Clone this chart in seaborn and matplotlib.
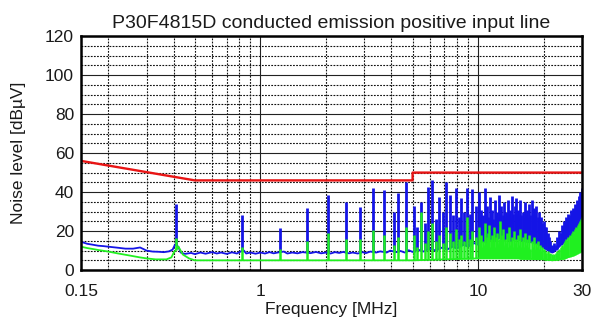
import numpy as np
import pandas as pd
import matplotlib
matplotlib.use("Agg")
import matplotlib.pyplot as plt
import seaborn as sns
from matplotlib.ticker import FixedLocator, NullFormatter

# ---------------- data ----------------
limit_freq = [0.15, 0.5, 5.0, 5.0, 30.0]
limit_level = [56, 46, 46, 50, 50]

blue_base_freq = [0.15, 0.16, 0.17, 0.18, 0.19, 0.20, 0.22, 0.24, 0.26, 0.27, 0.28, 0.29,
                  0.30, 0.32, 0.34, 0.36, 0.38, 0.395, 0.405, 0.42, 0.43, 0.45, 0.48, 0.50,
                  0.53, 0.56, 0.60, 0.63, 0.66, 0.70, 0.74, 0.78, 0.81, 0.84, 0.86, 0.90,
                  0.95, 1.00, 1.05, 1.10, 1.15, 1.20, 1.28, 1.33, 1.40, 1.48, 1.56, 1.62,
                  1.70, 1.80, 1.90, 2.00, 2.10, 2.20, 2.30, 2.40, 2.55, 2.65, 2.80, 2.95,
                  3.05, 3.20, 3.40, 3.55, 3.80, 3.95, 4.20, 4.40, 4.60, 4.80, 5.00, 5.30,
                  5.60, 6.00, 6.40, 6.80, 7.20, 7.60, 8.00, 8.50, 9.00, 9.50, 10.0, 10.5,
                  11.0, 11.5, 12.0, 12.5, 13.0, 13.5, 14.0, 15.0, 16.0, 17.0, 18.0, 19.0,
                  20.0, 21.0, 22.0, 23.0, 24.0, 25.0, 26.0, 27.0, 28.0, 29.0, 30.0]
blue_base_level = [14.5, 13.5, 13.0, 12.5, 12.3, 12.0, 11.5, 11.0, 11.0, 11.3, 11.6, 10.8,
                   10.0, 9.5, 9.4, 9.2, 9.6, 10.5, 13.0, 12.0, 9.0, 8.3, 8.8, 8.2,
                   9.0, 8.4, 9.2, 8.5, 9.0, 8.3, 9.1, 8.5, 9.5, 10.0, 8.5, 9.0,
                   8.4, 9.0, 8.5, 9.2, 8.6, 9.0, 9.5, 8.5, 9.0, 8.6, 9.2, 9.0,
                   8.7, 9.3, 8.6, 9.0, 8.5, 9.2, 8.8, 9.3, 8.6, 9.0, 8.5, 9.2,
                   8.7, 9.5, 9.0, 9.6, 9.0, 10.0, 9.2, 9.8, 9.0, 10.2, 9.3, 10.5,
                   9.5, 11.0, 10.0, 11.5, 10.5, 12.0, 11.0, 13.0, 12.0, 14.0, 13.0, 15.0,
                   14.0, 16.0, 15.0, 17.0, 15.0, 16.5, 15.0, 16.0, 15.0, 14.5, 14.0, 13.0,
                   11.5, 10.0, 9.0, 11.0, 13.0, 15.0, 17.0, 19.0, 21.0, 23.0, 25.0]

blue_spike_freq = [0.41, 0.82, 1.23, 1.64, 2.05, 2.47, 2.88, 3.30, 3.71, 4.12, 4.30, 4.68,
                   5.05, 5.25, 5.46, 5.70, 5.87, 6.15, 6.40, 6.62, 6.90, 7.13, 7.45, 7.70,
                   7.93, 8.15, 8.36, 8.65, 8.90, 9.15, 9.40, 9.75, 10.05, 10.2, 10.35, 10.5,
                   10.70, 10.85, 11.0, 11.15, 11.3, 11.45, 11.6, 11.75, 11.9, 12.05, 12.2,
                   12.35, 12.5, 12.65, 12.8, 12.95, 13.1, 13.25, 13.4, 13.55, 13.7, 13.85,
                   14.0, 14.15, 14.3, 14.5, 14.7, 14.85, 15.0, 15.15, 15.3, 15.45, 15.6,
                   15.8, 16.0, 16.2, 16.4, 16.6, 16.8, 17.0, 17.2, 17.4, 17.6, 17.8, 18.0,
                   18.25, 18.5, 18.75, 19.0, 19.25, 19.5, 19.75, 20.0, 20.3, 20.6, 20.9,
                   21.2, 21.5, 21.8, 22.1, 22.4, 22.7, 23.0, 23.3, 23.6, 23.9, 24.2, 24.5,
                   24.8, 25.1, 25.4, 25.7, 26.0, 26.3, 26.6, 26.9, 27.2, 27.5, 27.8, 28.1,
                   28.4, 28.7, 29.0, 29.25, 29.5, 29.7, 29.9]
blue_spike_peak = [34, 28, 21.5, 32, 38.5, 35, 32.5, 42, 41, 30, 39.5, 45,
                   33, 22, 35, 24, 42.7, 46, 26, 37.6, 30, 45, 38.5, 28,
                   42, 27, 37, 30, 42, 29, 41.5, 33, 40, 27, 31, 28,
                   42, 29, 33, 27, 37.6, 28, 31, 26, 36, 28, 30,
                   27, 38.5, 29, 33, 28, 35, 27, 30, 28, 36, 29,
                   31, 27, 38, 29, 33, 28, 37, 29, 31, 28, 36,
                   28, 30, 27, 35, 28, 31, 27, 34, 28, 36, 29, 32,
                   28, 33, 27, 30, 26, 27, 24, 25, 22, 22, 19,
                   17, 15, 13, 12, 14, 13, 17, 16, 20, 19, 23, 22,
                   25, 24, 27, 26, 29, 28, 31, 30, 32, 31, 34, 33,
                   36, 35, 38, 37, 40, 39, 42]

green_base_freq = [0.15, 0.16, 0.17, 0.18, 0.20, 0.22, 0.25, 0.28, 0.30, 0.33, 0.37, 0.39,
                   0.40, 0.42, 0.44, 0.47, 0.50, 0.60, 0.80, 1.0, 2.0, 3.0, 5.0, 7.0,
                   10.0, 15.0, 20.0, 22.0, 25.0, 28.0, 30.0]
green_base_level = [12.0, 11.3, 10.8, 10.3, 9.5, 8.6, 7.5, 6.5, 6.0, 5.5, 5.5, 6.5,
                    9.0, 12.0, 8.0, 6.0, 5.0, 5.0, 5.0, 5.0, 5.0, 5.0, 5.0, 5.5,
                    6.0, 6.0, 5.5, 5.0, 6.0, 8.0, 10.0]

green_spike_freq = [0.41, 0.82, 1.23, 1.64, 2.05, 2.47, 2.88, 3.30, 3.71, 4.12, 4.30, 4.68,
                    5.05, 5.25, 5.46, 5.70, 5.87, 6.15, 6.40, 6.62, 6.90, 7.13, 7.45, 7.70,
                    7.93, 8.15, 8.36, 8.65, 8.90, 9.15, 9.40, 9.75, 10.05, 10.15, 10.25,
                    10.35, 10.45, 10.55, 10.65, 10.75, 10.85, 10.95, 11.05, 11.15, 11.25,
                    11.35, 11.45, 11.55, 11.65, 11.75, 11.85, 11.95, 12.05, 12.15, 12.25,
                    12.35, 12.45, 12.55, 12.65, 12.75, 12.85, 12.95, 13.05, 13.15, 13.3,
                    13.45, 13.6, 13.75, 13.9, 14.05, 14.2, 14.35, 14.5, 14.65, 14.8, 14.95,
                    15.1, 15.25, 15.4, 15.55, 15.7, 15.85, 16.0, 16.2, 16.4, 16.6, 16.8,
                    17.0, 17.2, 17.4, 17.6, 17.8, 18.0, 18.2, 18.4, 18.6, 18.8, 19.0,
                    19.25, 19.5, 19.75, 20.0, 20.3, 20.6, 20.9, 21.2, 21.5, 21.8, 22.1,
                    22.4, 22.7, 23.0, 23.3, 23.6, 23.9, 24.2, 24.5, 24.8, 25.1, 25.4,
                    25.7, 26.0, 26.3, 26.6, 26.9, 27.2, 27.5, 27.8, 28.1, 28.4, 28.7,
                    29.0, 29.25, 29.5, 29.7, 29.9]
green_spike_peak = [16.5, 12, 11, 15, 19, 16, 16, 20.5, 18, 13, 17, 22,
                    18, 12, 30, 14, 20, 24, 15, 18, 14, 22, 19, 15,
                    21, 16, 18, 15, 27, 16, 20, 17, 22, 13, 16,
                    18, 12, 15, 13, 24, 14, 17, 19, 13, 23,
                    12, 16, 18, 13, 15, 22, 12, 17, 14, 19,
                    13, 16, 25, 12, 15, 18, 13, 21, 12, 16,
                    14, 19, 12, 22, 13, 15, 17, 12, 20, 14, 16,
                    12, 18, 13, 21, 12, 15, 17, 12, 19, 13, 16,
                    12, 18, 11, 15, 12, 17, 11, 14, 12, 15, 11,
                    13, 10, 12, 11, 10, 9, 10, 8, 9, 8, 7,
                    8, 9, 10, 9, 11, 12, 13, 12, 14, 15, 16,
                    15, 17, 18, 17, 19, 20, 19, 21, 22, 21, 23,
                    24, 23, 25, 26, 27]

# ---------------- figure ----------------
sns.set_style("white")
plt.rcParams["font.family"] = ["Liberation Sans", "DejaVu Sans"]

fig, ax = plt.subplots(figsize=(5.96, 3.31), dpi=100)
fig.subplots_adjust(left=0.136, right=0.9765, top=0.891, bottom=0.184)

BLUE = "#1414e6"
GREEN = "#20f020"
RED = "#e81414"

blue_df = pd.DataFrame({"f": blue_base_freq, "v": blue_base_level})
green_df = pd.DataFrame({"f": green_base_freq, "v": green_base_level})
limit_df = pd.DataFrame({"f": limit_freq, "v": limit_level})

# blue trace
sns.lineplot(data=blue_df, x="f", y="v", ax=ax, color=BLUE, lw=1.3,
             estimator=None, sort=False, zorder=3)
bsf = np.array(blue_spike_freq)
ax.vlines(bsf, np.interp(bsf, blue_base_freq, blue_base_level), blue_spike_peak,
          color=BLUE, lw=2.0, zorder=3)

# green trace
sns.lineplot(data=green_df, x="f", y="v", ax=ax, color=GREEN, lw=1.3,
             estimator=None, sort=False, zorder=4)
gsf = np.array(green_spike_freq)
ax.vlines(gsf, np.interp(gsf, green_base_freq, green_base_level), green_spike_peak,
          color=GREEN, lw=1.8, zorder=4)

# limit line
sns.lineplot(data=limit_df, x="f", y="v", ax=ax, color=RED, lw=1.7,
             estimator=None, sort=False, zorder=6)

ax.set_xscale("log")
ax.set_xlim(0.15, 30)
ax.set_ylim(0, 120)

ax.xaxis.set_major_locator(FixedLocator([0.15, 1, 10, 30]))
ax.set_xticklabels(["0.15", "1", "10", "30"])
ax.xaxis.set_minor_locator(FixedLocator([0.2, 0.3, 0.4, 0.5, 0.6, 0.7, 0.8, 0.9,
                                         2, 3, 4, 5, 6, 7, 8, 9, 20]))
ax.xaxis.set_minor_formatter(NullFormatter())
ax.yaxis.set_major_locator(FixedLocator([0, 20, 40, 60, 80, 100, 120]))
ax.yaxis.set_minor_locator(FixedLocator([v for v in range(5, 120, 5) if v % 20]))

ax.set_axisbelow(False)
ax.grid(which="major", color="#222222", ls="-", lw=0.8, zorder=5)
ax.grid(which="minor", color="#111111", ls=(0, (1.6, 1.2)), lw=0.8, zorder=5)

ax.tick_params(which="both", length=0, labelsize=12.5, colors="#1a1a1a")
ax.tick_params(axis="x", pad=10)
ax.tick_params(axis="y", pad=5)

for s in ax.spines.values():
    s.set_linewidth(1.8)
    s.set_color("black")
    s.set_zorder(7)

ax.set_title("P30F4815D conducted emission positive input line", fontsize=14,
             pad=6, color="#1a1a1a")
ax.set_xlabel("Frequency [MHz]", fontsize=12.5, color="#1a1a1a")
ylab = ax.set_ylabel("Noise level [dB\u00b5V]", fontsize=12.5, color="#1a1a1a")
ylab.set_horizontalalignment("center")
ylab.set_verticalalignment("center")
ax.xaxis.set_label_coords(0.5, -0.135)
ax.yaxis.set_label_coords(-0.124, 0.5)

fig.savefig("out.png", dpi=100)
